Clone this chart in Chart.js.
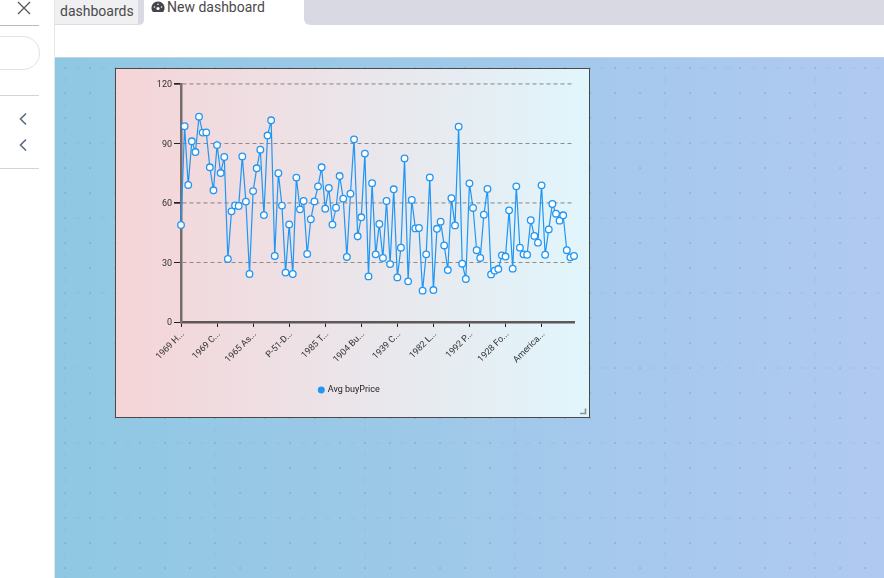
<!DOCTYPE html>
<html><head><meta charset="utf-8">
<script src="https://cdn.jsdelivr.net/npm/chart.js@4"></script>
<style>
html,body{margin:0;padding:0;width:884px;height:578px;overflow:hidden;background:#fff;font-family:Roboto,sans-serif}
.abs{position:absolute}
#area{left:55px;top:57px;width:829px;height:521px;border-top:1px solid #c3d2e4;box-sizing:border-box;background-color:#94c8e4;background-repeat:repeat,no-repeat;background-size:150px 75px,100% 100%;background-position:0 0,0 0}
#box{left:115px;top:68px;width:473px;height:348px;border:1px solid #4a4a4a;background:linear-gradient(90deg,#f5d4d7,#e0f6fc)}
#box canvas{display:block}
#tabbar{left:304px;top:0;width:580px;height:25px;background:#d9d9e4;border-bottom-left-radius:6px}
#tab1{left:55px;top:0;width:84px;height:24px;background:#f0f0f2;border-bottom:1px solid #dcdce6;color:#4a4a4a;font-size:14px;line-height:23px;text-indent:5px}
#tabsep{left:138px;top:0;width:6px;height:25px;background:#d9d9e4;border-bottom-right-radius:5px}
#tab2{top:-1px;font-size:14px;color:#4a4a4a;line-height:16px}
#side{left:54px;top:0;width:1px;height:578px;background:#e6e6e6}
.hr{left:0;width:39px;height:1px;background:#d4d4d4}
#search{left:-20px;top:36px;width:58px;height:32px;border:1px solid #e2e2e2;border-radius:17px}
svg{position:absolute}
</style></head><body>
<div class="abs" id="tabbar"></div><div class="abs" id="tab1">dashboards</div><div class="abs" id="tabsep"></div>
<svg style="left:151px;top:1px" width="14" height="12" viewBox="0 0 14 12"><path d="M7 0.5C3 0.5 .5 3.5 .5 7c0 1.7.5 3 1.5 4h10c1-1 1.5-2.3 1.5-4 0-3.5-2.500-6.500-6.500-6.500z" fill="#44444c"/><circle cx="7" cy="7.500" r="1.600" fill="#fff"/><circle cx="3.500" cy="6" r=".8" fill="#fff"/><circle cx="10.500" cy="6" r=".8" fill="#fff"/><circle cx="7" cy="3.200" r=".8" fill="#fff"/></svg>
<div class="abs" id="tab2" style="left:167px">New dashboard</div>
<div class="abs" id="side"></div>
<svg style="left:17px;top:1px" width="14" height="14"><path d="M1 1L13 13M13 1L1 13" stroke="#555" stroke-width="1.300" fill="none"/></svg>
<div class="abs hr" style="top:25px;background:#bbb"></div>
<div class="abs" id="search"></div>
<div class="abs hr" style="top:95px"></div>
<svg style="left:19px;top:112px" width="9" height="14"><path d="M7 1.500L1.500 7L7 12.500" stroke="#5b6b80" stroke-width="1.600" fill="none"/></svg>
<svg style="left:19px;top:138px" width="9" height="14"><path d="M7 1.500L1.500 7L7 12.500" stroke="#5b6b80" stroke-width="1.600" fill="none"/></svg>
<div class="abs hr" style="top:168px"></div>
<div class="abs" id="area"></div>
<div class="abs" id="box"><canvas id="c" width="473" height="348"></canvas></div>
<svg style="left:579px;top:408px" width="8" height="7"><path d="M1 5.500H6.500V0.500" stroke="#8a9299" stroke-width="1.600" fill="none"/></svg>
<script>
const tickLabels=["1969 H...","1969 C...","1965 As...","P-51-D...","1985 T...","1904 Bu...","1939 C...","1982 L...","1992 P...","1928 Fo...","America..."];
const seriesName="Avg buyPrice";
const avgBuyPrice=[48.9,98.7,69.1,91.1,85.7,103.5,95.5,95.6,78,66.4,
89.2,75.1,83.2,31.8,55.8,58.8,58.5,83.5,60.7,24.2,
66,77.5,86.9,53.9,94,101.7,33.3,75,58.7,24.9,
49.2,24.2,72.8,56.8,61,34.3,51.8,60.8,68.4,78,
57.1,67.6,49.1,57.6,73.6,62.2,32.8,64.7,92.1,43.2,
52.8,84.9,23,70,34.1,49.4,32.3,61,29.2,66.9,
22.5,37.5,82.5,20.5,61.5,47.2,47.4,15.8,34.1,72.9,
16.1,47,50.6,38.6,26.2,62.4,48.7,98.5,29.4,21.7,
69.9,57.5,36.2,32.3,54.1,67.1,24,25.9,26.7,33.6,
33,56.3,26.9,68.4,37.5,34.1,33.9,51.3,43.4,40,
68.9,33.9,46.7,59.5,54.6,51.1,53.8,36.2,32.6,33.3];
const yTicks=[0,30,60,90,120];
const categories=avgBuyPrice.map((v,i)=>i%10===0?tickLabels[i/10]:"");

// faint square dot texture of the dashboard canvas
let tile='';
for(let x=0;x<6;x++)for(let y=0;y<3;y++){
  tile+=`<rect x='${9.3+25*x}' y='${9.3+25*y}' width='1.5' height='1.5' fill='rgb(130,135,145)' fill-opacity='.55'/>`;
  if(y===0)tile+=`<rect x='${20+25*x}' y='9.3' width='6' height='1.5' fill='rgb(130,135,145)' fill-opacity='.1'/>`;
  if(x===0)tile+=`<rect x='9.3' y='${19+25*y}' width='1.5' height='6' fill='rgb(130,135,145)' fill-opacity='.1'/>`;
}
document.getElementById('area').style.backgroundImage=
 `url("data:image/svg+xml,<svg xmlns='http://www.w3.org/2000/svg' width='150' height='75'>${tile}</svg>"),linear-gradient(90deg,#8fc8e2,#b0c9f1)`;

Chart.defaults.font.family="Roboto, sans-serif";
Chart.defaults.font.size=9;
Chart.defaults.color="#333";
const softGrid=v=>v===120||v===60;
new Chart(document.getElementById('c'),{
 type:'line',
 data:{labels:categories,datasets:[{label:seriesName,data:avgBuyPrice,borderColor:'#2196f3',borderWidth:1.200,backgroundColor:'#fff',pointBackgroundColor:'#fff',pointBorderColor:'#2196f3',pointBorderWidth:1.300,pointRadius:3.300,tension:0,fill:false,clip:false}]},
 options:{responsive:false,animation:false,
  layout:{padding:{left:9,right:15,top:15,bottom:12.500}},
  plugins:{tooltip:{enabled:false},legend:{position:'bottom',labels:{usePointStyle:true,pointStyle:'circle',boxWidth:4,boxHeight:4,color:'#222',font:{size:9},padding:10,
    generateLabels(ch){const l=Chart.defaults.plugins.legend.labels.generateLabels(ch);l.forEach(x=>{x.fillStyle='#2196f3';x.strokeStyle='#2196f3'});return l;}}}},
  scales:{
   x:{offset:false,afterFit(s){s.height=53.500},grid:{drawOnChartArea:false,drawTicks:true,tickLength:5,tickColor:'#222',color:'#222'},border:{color:'#5f5858',width:2.500},
      ticks:{autoSkip:false,maxRotation:45,minRotation:45,padding:2,labelOffset:2,color:'#333',callback(v,i){return i%10===0?this.getLabelForValue(v):null}}},
   y:{min:0,max:120,afterFit(s){s.width=56},afterBuildTicks(a){a.ticks=yTicks.map(value=>({value}))},
      grid:{color:c=>softGrid(c.tick&&c.tick.value)?'rgba(120,115,115,.5)':'#8f8b8b',tickColor:'#222',tickLength:7,lineWidth:c=>softGrid(c.tick&&c.tick.value)?1.700:1},
      border:{color:'#776c6c',width:2.500,dash:[4,3],display:true},
      ticks:{padding:2,labelOffset:1,color:'#333'}}
  }
 }
});
</script>
</body></html>
